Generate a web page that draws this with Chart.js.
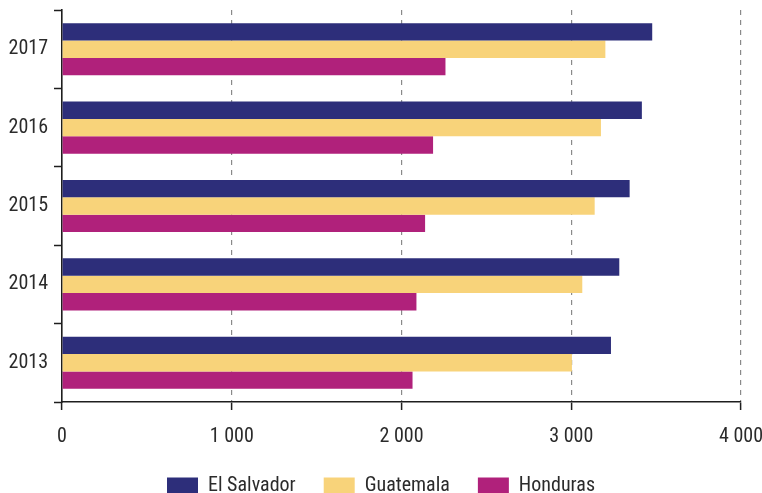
<!DOCTYPE html>
<html><head><meta charset="utf-8">
<script src="https://cdn.jsdelivr.net/npm/chart.js@4/dist/chart.umd.min.js"></script>
<style>html,body{margin:0;padding:0;background:#fff}</style>
</head><body>
<canvas id="c" width="762" height="493"></canvas>
<script>
const categories = ['2017', '2016', '2015', '2014', '2013'];
const elSalvador = [3477, 3416, 3344, 3283, 3234];
const guatemala = [3201, 3175, 3138, 3065, 3004];
const honduras = [2259, 2186, 2139, 2088, 2065];
const xMin = 0, xMax = 4000, xStep = 1000;

const FONT = "'Liberation Sans Narrow', 'Roboto Condensed', 'DejaVu Sans Condensed', sans-serif";
const TEXT = '#2b2b2b';
const AXIS = '#1e1e1e';

function fmt(v) { return String(v).replace(/\B(?=(\d{3})+(?!\d))/g, ' '); }

new Chart(document.getElementById('c'), {
  type: 'bar',
  data: {
    labels: categories,
    datasets: [
      { label: 'El Salvador', data: elSalvador, backgroundColor: '#2d2e7a' },
      { label: 'Guatemala', data: guatemala, backgroundColor: '#f8d37a' },
      { label: 'Honduras', data: honduras, backgroundColor: '#b0217b' }
    ]
  },
  options: {
    indexAxis: 'y',
    responsive: false,
    animation: false,
    datasets: { bar: { categoryPercentage: 0.665, barPercentage: 1.0, borderWidth: 0 } },
    layout: { padding: { top: 10, left: 0, right: 0, bottom: -13 } },
    scales: {
      x: {
        min: xMin, max: xMax,
        ticks: { stepSize: xStep, callback: v => fmt(v), font: { family: FONT, size: 20 }, color: TEXT, padding: 15 },
        grid: {
          color: c => (c.tick && c.tick.value === 0) ? 'rgba(0,0,0,0)' : '#8a8a8a',
          lineWidth: 1.2,
          tickBorderDash: [],
          tickColor: AXIS,
          tickWidth: 1.5,
          tickLength: 8
        },
        border: { display: true, color: AXIS, width: 1.6, dash: [5, 5] },
        afterFit: s => { s.height = 46; s.paddingRight = 21; s.paddingLeft = 0; }
      },
      y: {
        ticks: { font: { family: FONT, size: 20 }, color: TEXT, padding: 6 },
        grid: { drawOnChartArea: false, color: AXIS, tickColor: AXIS, tickWidth: 1.5, tickLength: 8, offset: true },
        border: { display: true, color: AXIS, width: 1.6 },
        afterFit: s => { s.width = 62; s.paddingTop = 0; s.paddingBottom = 0; }
      }
    },
    plugins: {
      legend: {
        position: 'bottom',
        labels: { boxWidth: 31, boxHeight: 17, padding: 28, font: { family: FONT, size: 20 }, color: TEXT }
      },
      tooltip: { enabled: false }
    }
  }
});
</script>
</body></html>
